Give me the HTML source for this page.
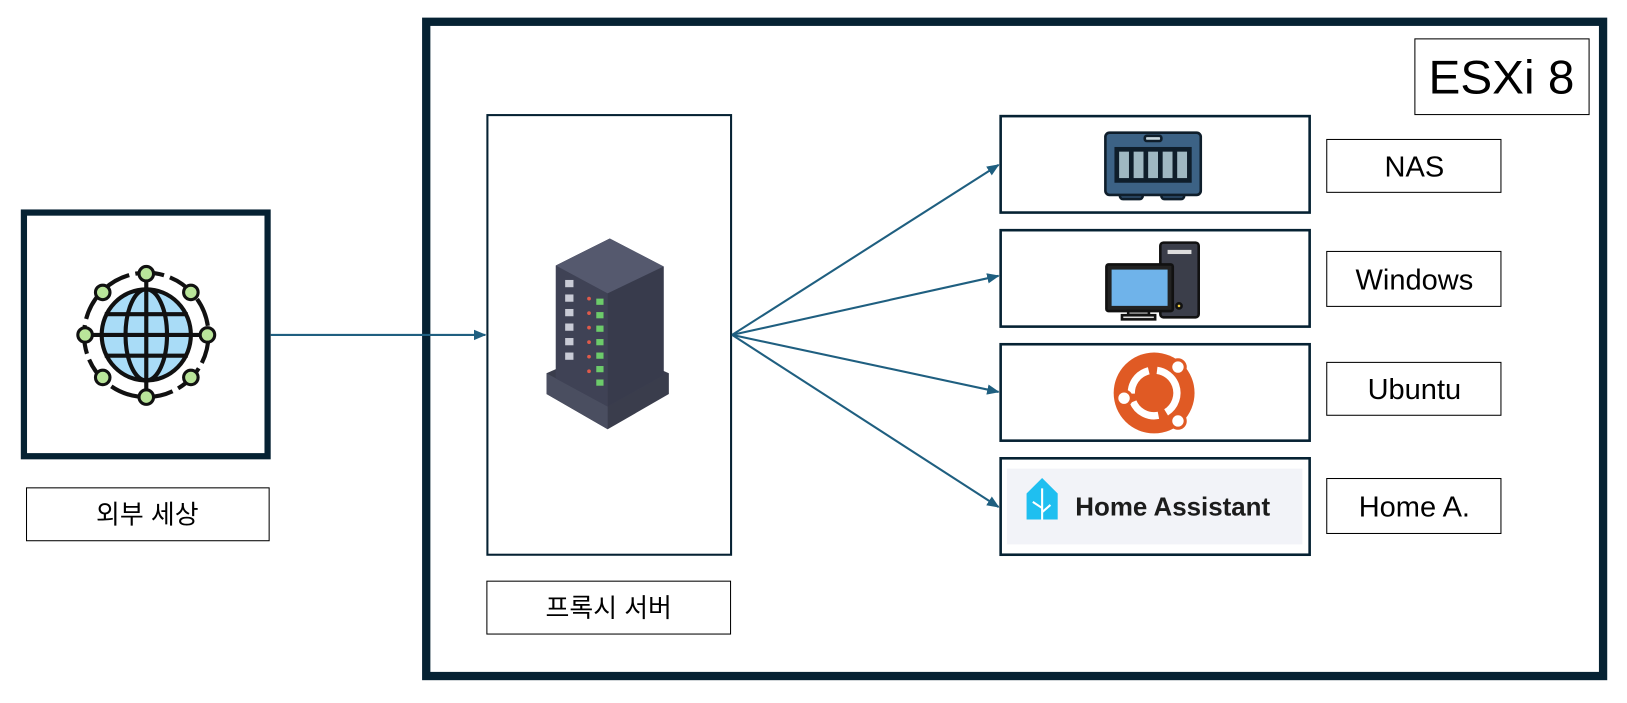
<!DOCTYPE html>
<html><head><meta charset="utf-8"><style>html,body{margin:0;padding:0;background:#fff}svg{display:block}</style></head>
<body>
<svg width="1627" height="703" viewBox="0 0 1569 678" xmlns="http://www.w3.org/2000/svg" font-family="'Liberation Sans','Noto Sans CJK KR',sans-serif">
<defs>
<marker id="ah" markerWidth="12" markerHeight="12" refX="11" refY="6" orient="auto" markerUnits="userSpaceOnUse">
<path d="M0,1 L12,6 L0,11 Z" fill="#1f5f80"/></marker>
</defs>
<rect x="0" y="0" width="1569" height="678" fill="#fff"/>
<!-- ESXi frame -->
<rect x="411" y="21" width="1135" height="631" fill="none" stroke="#062233" stroke-width="8"/>
<rect x="1364.5" y="37.5" width="168" height="73" fill="#fff" stroke="#000" stroke-width="1"/>
<text x="1448" y="90" font-size="46" text-anchor="middle" fill="#000">ESXi 8</text>
<!-- Globe box -->
<rect x="23" y="205" width="235" height="235" fill="#fff" stroke="#062233" stroke-width="6"/>
<rect x="25.5" y="470.5" width="234" height="51" fill="#fff" stroke="#000" stroke-width="1"/>
<text x="142" y="505" font-size="25" text-anchor="middle" fill="#000">외부 세상</text>
<!-- globe icon -->
<g stroke="#111" stroke-width="4" fill="none">
<circle cx="141" cy="323" r="60" stroke-dasharray="28 6"/>
<ellipse cx="141" cy="323" rx="43" ry="44" fill="#a9dcf7"/>
<ellipse cx="141" cy="323" rx="20" ry="44"/>
<line x1="141" y1="270" x2="141" y2="383"/>
<line x1="82" y1="323" x2="200" y2="323"/>
<line x1="101" y1="303" x2="181" y2="303"/>
<line x1="101" y1="343" x2="181" y2="343"/>
</g>
<g stroke="#111" stroke-width="3" fill="#b9e59a">
<circle cx="141" cy="264" r="7"/><circle cx="141" cy="383" r="7"/>
<circle cx="82" cy="323" r="7"/><circle cx="200" cy="323" r="7"/>
<circle cx="99" cy="282" r="7"/><circle cx="184" cy="282" r="7"/>
<circle cx="99" cy="364" r="7"/><circle cx="184" cy="364" r="7"/>
</g>
<!-- proxy box -->
<rect x="470" y="111" width="235" height="424" fill="#fff" stroke="#062233" stroke-width="2"/>
<rect x="469.5" y="560.5" width="235" height="51" fill="#fff" stroke="#000" stroke-width="1"/>
<text x="587" y="595" font-size="25" text-anchor="middle" fill="#000">프록시 서버</text>
<!-- server icon -->
<g>
<path d="M527,360 L586,334 L645,360 L645,380 L586,414 L527,380 Z" fill="#3a3d4c"/>
<path d="M527,360 L586,392 L586,414 L527,380 Z" fill="#4a4e60"/>
<path d="M536,256 L588,230 L640,257 L640,362 L586,392 L536,365 Z" fill="#474a5e"/>
<path d="M536,256 L586,283 L586,392 L536,365 Z" fill="#3f4255"/>
<path d="M536,256 L588,230 L640,257 L586,283 Z" fill="#55596e"/>
<path d="M586,283 L640,257 L640,362 L586,392 Z" fill="#383b4c"/>
<g fill="#6ccb6a">
<rect x="575" y="288" width="7" height="6"/><rect x="575" y="301" width="7" height="6"/><rect x="575" y="314" width="7" height="6"/><rect x="575" y="327" width="7" height="6"/><rect x="575" y="340" width="7" height="6"/><rect x="575" y="353" width="7" height="6"/><rect x="575" y="366" width="7" height="6"/></g>
<g fill="#c9cbd6"><rect x="545" y="270" width="8" height="7"/><rect x="545" y="284" width="8" height="7"/><rect x="545" y="298" width="8" height="7"/><rect x="545" y="312" width="8" height="7"/><rect x="545" y="326" width="8" height="7"/><rect x="545" y="340" width="8" height="7"/></g>
<g fill="#e05a4a"><circle cx="568" cy="288" r="1.8"/><circle cx="568" cy="302" r="1.8"/><circle cx="568" cy="316" r="1.8"/><circle cx="568" cy="330" r="1.8"/><circle cx="568" cy="344" r="1.8"/><circle cx="568" cy="358" r="1.8"/></g>
</g>
<!-- arrows -->
<g stroke="#1f5f80" stroke-width="2" fill="none" marker-end="url(#ah)">
<line x1="261" y1="323" x2="468" y2="323"/>
<line x1="706" y1="323" x2="963" y2="159"/>
<line x1="706" y1="323" x2="963" y2="266"/>
<line x1="706" y1="323" x2="963" y2="378"/>
<line x1="706" y1="323" x2="963" y2="489"/>
</g>
<!-- right boxes -->
<g fill="#fff" stroke="#062233" stroke-width="2.5">
<rect x="965" y="112" width="298" height="93"/>
<rect x="965" y="222" width="298" height="93"/>
<rect x="965" y="332" width="298" height="93"/>
<rect x="965" y="442" width="298" height="93"/>
</g>
<!-- NAS icon -->
<g stroke="#0f1e2b" stroke-width="2.5">
<rect x="1080" y="180" width="22" height="12" rx="3" fill="#2f4e6e"/>
<rect x="1120" y="180" width="22" height="12" rx="3" fill="#2f4e6e"/>
<rect x="1066" y="128" width="92" height="60" rx="4" fill="#3c6285"/>
<rect x="1076" y="143" width="72" height="32" fill="#2a4a68"/>
<g fill="#9fb8c2"><rect x="1078" y="145" width="12" height="28"/><rect x="1092" y="145" width="12" height="28"/><rect x="1106" y="145" width="12" height="28"/><rect x="1120" y="145" width="12" height="28"/><rect x="1134" y="145" width="12" height="28"/></g>
<rect x="1104" y="131" width="16" height="5" rx="2" fill="#c9d8df"/>
</g>
<!-- Windows icon -->
<g stroke="#111" stroke-width="2.5">
<rect x="1119" y="234" width="37" height="72" rx="3" fill="#3b3e4a"/>
<rect x="1126" y="241" width="23" height="4" fill="#ddd" stroke="none"/>
<circle cx="1137" cy="295" r="2.5" fill="#f4d03f"/>
<rect x="1067" y="255" width="64" height="45" rx="2" fill="#222"/>
<rect x="1072" y="260" width="54" height="35" fill="#6fb3ea" stroke="none"/>
<rect x="1088" y="300" width="20" height="4" fill="#999"/>
<rect x="1082" y="304" width="32" height="4" fill="#ddd"/>
</g>
<!-- Ubuntu icon -->
<circle cx="1113" cy="379" r="39" fill="#e05a24"/>
<circle cx="1113" cy="379" r="22" fill="none" stroke="#fff" stroke-width="7" stroke-dasharray="30 8" transform="rotate(-20 1113 379)"/>
<g fill="#fff" stroke="#e05a24" stroke-width="3"><circle cx="1136" cy="354" r="7"/><circle cx="1084" cy="384" r="7"/><circle cx="1136" cy="406" r="7"/></g>
<!-- Home Assistant -->
<rect x="971" y="452" width="285" height="73" fill="#f2f3f8"/>
<path d="M990,476 L1005,461 L1020,476 L1020,501 L990,501 Z" fill="#1fbff0"/>
<g stroke="#fff" stroke-width="2" fill="none"><path d="M1005,471 L1005,501 M1005,490 L996,484 M1005,494 L1013,487"/></g>
<text x="1037" y="497" font-size="25" font-weight="bold" fill="#1c1c1c">Home Assistant</text>
<!-- labels -->
<g fill="#fff" stroke="#000" stroke-width="1">
<rect x="1279.5" y="134.5" width="168" height="51"/>
<rect x="1279.5" y="242.5" width="168" height="53"/>
<rect x="1279.5" y="349.5" width="168" height="51"/>
<rect x="1279.5" y="461.5" width="168" height="53"/>
</g>
<g font-size="28" text-anchor="middle" fill="#000">
<text x="1364" y="170">NAS</text>
<text x="1364" y="279">Windows</text>
<text x="1364" y="385">Ubuntu</text>
<text x="1364" y="498">Home A.</text>
</g>
</svg>
</body></html>
